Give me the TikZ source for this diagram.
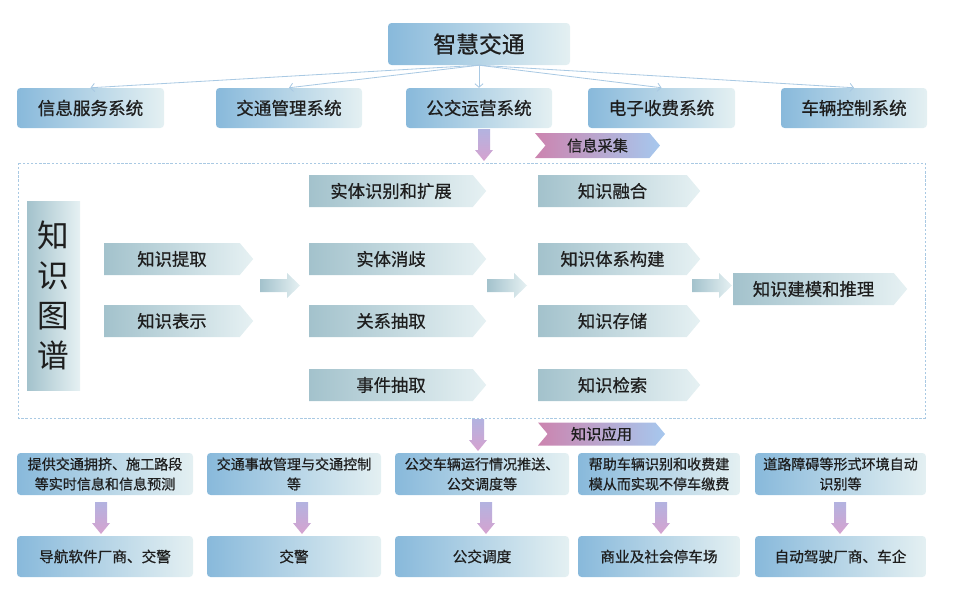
\documentclass[tikz,border=0pt]{standalone}
\usepackage{fontspec}
\setmainfont{Noto Sans CJK SC}[FakeBold=0.7]
\newfontfamily\kgfont{Noto Sans CJK SC}
\usetikzlibrary{shapes,arrows.meta,positioning}
\definecolor{sysblue}{HTML}{88B9DB}
\definecolor{sysmid}{HTML}{A5D0E3}
\definecolor{syslight}{HTML}{E4F0F2}
\definecolor{kgteal}{HTML}{A3C2CC}
\definecolor{kgmid}{HTML}{BCD7DF}
\definecolor{kglight}{HTML}{E6F1F3}
\definecolor{linkblue}{HTML}{A9C9E3}
\definecolor{arrowtop}{HTML}{B3B3E0}
\definecolor{arrowbot}{HTML}{D6A2CF}
\definecolor{tagpink}{HTML}{CC84AF}
\definecolor{tagblue}{HTML}{A6C8EE}
\definecolor{inktext}{HTML}{1E1E1E}
\newcommand{\pxu}{0.03cm}
\tikzset{
	sysbox/.style={rectangle,rounded corners=3pt,left color=sysblue,middle color=sysmid,right color=syslight,inner sep=0,text=inktext,align=center},
	kgbox/.style={signal,signal to=east,signal pointer angle=100,left color=kgteal,middle color=kgmid,right color=kglight,inner sep=0,text=inktext,minimum height=32*\pxu,anchor=west,font=\fontsize{14.8}{17}\selectfont},
	tag/.style={signal,signal from=west,signal to=east,signal pointer angle=100,left color=tagpink,right color=tagblue,inner sep=0,text=inktext,font=\fontsize{13}{15}\selectfont},
	link/.style={draw=linkblue,line width=0.7pt,-{Straight Barb[length=3pt,width=7pt]}},
	kgframe/.style={draw=linkblue,dash pattern=on 2pt off 1.5pt,line width=0.6pt},
	downblock/.pic={\shade[top color=arrowtop,bottom color=arrowbot] (-6,-16) -- (6,-16) -- (6,5) -- (9,5) -- (0,16) -- (-9,5) -- (-6,5) -- cycle;},
	rightblock/.pic={\shade[left color=kgteal,right color=kglight] (-20,-6.5) -- (7,-6.5) -- (7,-12.5) -- (20,0) -- (7,12.5) -- (7,6.5) -- (-20,6.5) -- cycle;}
}
\begin{document}
\begin{tikzpicture}[x=\pxu,y=-\pxu]
	\useasboundingbox (0,0) rectangle (955,588);

	%%top level
	\node[sysbox,minimum width=182*\pxu,minimum height=42*\pxu,font=\fontsize{19.5}{22}\selectfont] (top) at (479,44) {智慧交通};

	%%systems
	\node[sysbox,minimum width=147*\pxu,minimum height=40*\pxu,font=\fontsize{15}{18}\selectfont] (sys1) at (90.5,108) {信息服务系统};
	\node[sysbox,minimum width=146*\pxu,minimum height=40*\pxu,font=\fontsize{15}{18}\selectfont] (sys2) at (289,108) {交通管理系统};
	\node[sysbox,minimum width=146*\pxu,minimum height=40*\pxu,font=\fontsize{15}{18}\selectfont] (sys3) at (479,108) {公交运营系统};
	\node[sysbox,minimum width=147*\pxu,minimum height=40*\pxu,font=\fontsize{15}{18}\selectfont] (sys4) at (661.5,108) {电子收费系统};
	\node[sysbox,minimum width=146*\pxu,minimum height=40*\pxu,font=\fontsize{15}{18}\selectfont] (sys5) at (854,108) {车辆控制系统};
	\foreach \i in {1,...,5}
		\draw[link] (top.south) -- (sys\i.north);

	%%collection
	\pic (collect) at (484,145) {downblock};
	\node[tag,minimum width=125*\pxu,minimum height=25*\pxu] (collecttag) at (597.5,145.5) {信息采集};

	%%knowledge graph frame
	\draw[kgframe] (18,163) rectangle (925,418);
	\node[rectangle,left color=kgteal,middle color=kgmid,right color=kglight,minimum width=53*\pxu,minimum height=189*\pxu,inner sep=0,text=inktext,align=center,font=\kgfont\fontsize{27}{34}\selectfont] (kg) at (53.5,295.5) {知\\识\\图\\谱};

	%%column 1
	\node[kgbox,minimum width=149*\pxu] (extract) at (104,259) {知识提取};
	\node[kgbox,minimum width=149*\pxu] (represent) at (104,321) {知识表示};
	\pic (step1) at (280,285.5) {rightblock};

	%%column 2
	\node[kgbox,minimum width=177*\pxu] (entity) at (309,191) {实体识别和扩展};
	\node[kgbox,minimum width=177*\pxu] (disamb) at (309,259) {实体消歧};
	\node[kgbox,minimum width=177*\pxu] (relation) at (309,321) {关系抽取};
	\node[kgbox,minimum width=177*\pxu] (event) at (309,385) {事件抽取};
	\pic (step2) at (507,285.5) {rightblock};

	%%column 3
	\node[kgbox,minimum width=162*\pxu] (fusion) at (538,191) {知识融合};
	\node[kgbox,minimum width=162*\pxu] (schema) at (538,259) {知识体系构建};
	\node[kgbox,minimum width=162*\pxu] (storage) at (538,321) {知识存储};
	\node[kgbox,minimum width=162*\pxu] (retrieval) at (538,385) {知识检索};
	\pic (step3) at (712,285.5) {rightblock};

	%%column 4
	\node[kgbox,minimum width=174*\pxu] (reason) at (733,289) {知识建模和推理};

	%%application
	\pic (apply) at (478,435) {downblock};
	\node[tag,minimum width=127*\pxu,minimum height=23*\pxu] (applytag) at (601.5,434) {知识应用};

	%%use cases + users
	\foreach \x/\w/\ax/\case/\user [count=\i] in {
		105/176/101/{提供交通拥挤、施工路段\\等实时信息和信息预测}/{导航软件厂商、交警},
		294/174/302/{交通事故管理与交通控制\\等}/{交警},
		482/174/486/{公交车辆运行情况推送、\\公交调度等}/{公交调度},
		659/162/661/{帮助车辆识别和收费建\\模从而实现不停车缴费}/{商业及社会停车场},
		840.5/171/840/{道路障碍等形式环境自动\\识别等}/{自动驾驶厂商、车企}}{
		\node[sysbox,minimum width=\w*\pxu,minimum height=42*\pxu,font=\fontsize{12}{17}\selectfont] (case\i) at (\x,474) {\case};
		\pic (down\i) at (\ax,518) {downblock};
		\node[sysbox,minimum width=\w*\pxu,minimum height=41*\pxu,font=\fontsize{12.5}{17}\selectfont] (user\i) at (\x,556.5) {\user};
	}
\end{tikzpicture}
\end{document}
